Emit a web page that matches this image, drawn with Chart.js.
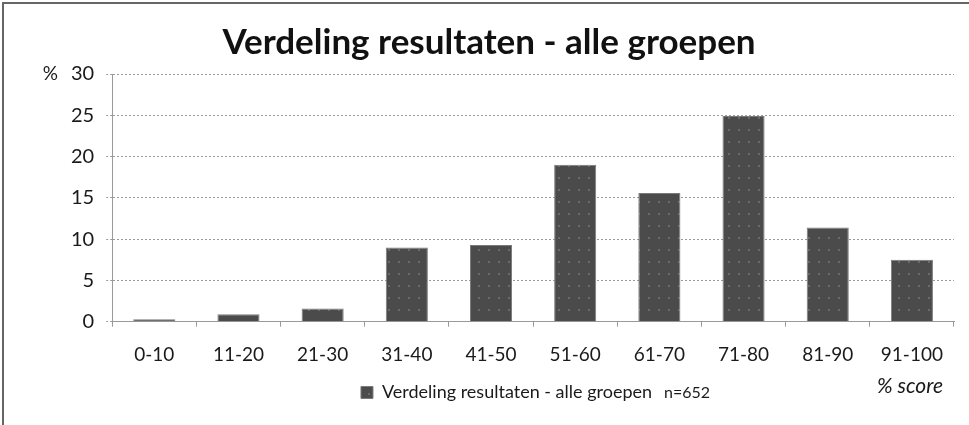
<!DOCTYPE html>
<html>
<head>
<meta charset="utf-8">
<script src="https://cdn.jsdelivr.net/npm/chart.js@4/dist/chart.umd.min.js"></script>
<style>
  html, body { margin: 0; padding: 0; background: #fff; }
  #wrap { position: relative; width: 969px; height: 425px; box-sizing: border-box;
          border-top: 2px solid #666; border-left: 2px solid #666; margin: 2px 0 0 2px; }
  canvas { display: block; }
</style>
</head>
<body>
<div id="wrap"><canvas id="c" width="967" height="421"></canvas></div>
<script>
const categories = ['0-10','11-20','21-30','31-40','41-50','51-60','61-70','71-80','81-90','91-100'];
const percentages = [0.3, 0.9, 1.6, 9.0, 9.3, 19.0, 15.6, 24.9, 11.4, 7.5];
const yTicks = [0, 5, 10, 15, 20, 25, 30];
const seriesName = 'Verdeling resultaten - alle groepen';
const chartTitle = 'Verdeling resultaten - alle groepen';
const sampleNote = 'n=652';
const xAxisNote = '% score';
const yAxisNote = '%';

const FONT = 'Lato, "Open Sans", sans-serif';

function makePattern() {
  const p = document.createElement('canvas');
  p.width = 10; p.height = 12;
  const g = p.getContext('2d');
  g.fillStyle = '#4b4b4b';
  g.fillRect(0, 0, 10, 12);
  g.fillStyle = '#6a6a6a';
  g.fillRect(4, 5, 2, 2);
  return g.createPattern(p, 'repeat');
}

const notes = {
  id: 'notes',
  afterDraw(chart) {
    const ctx = chart.ctx;
    const area = chart.chartArea;
    ctx.save();
    // title
    ctx.fillStyle = '#111';
    ctx.font = 'bold 35px ' + FONT;
    ctx.textAlign = 'center';
    ctx.textBaseline = 'middle';
    ctx.fillText(chartTitle, 485, 39);
    // % above y axis
    ctx.fillStyle = '#1a1a1a';
    ctx.font = '19px ' + FONT;
    ctx.textAlign = 'right';
    const y30 = chart.scales.y.getPixelForValue(30);
    ctx.fillText(yAxisNote, 54, y30);
    const hb = chart.legend.legendHitBoxes && chart.legend.legendHitBoxes[0];
    const cy = hb ? hb.top + hb.height / 2 : area.bottom + 65;
    ctx.font = '16px ' + FONT;
    ctx.textAlign = 'left';
    if (hb) ctx.fillText(sampleNote, hb.left + hb.width + 12, cy);
    ctx.font = 'italic 21px ' + FONT;
    ctx.textAlign = 'right';
    ctx.fillText(xAxisNote, area.right - 11, cy - 6);
    ctx.restore();
  }
};

new Chart(document.getElementById('c'), {
  type: 'bar',
  data: {
    labels: categories,
    datasets: [{
      label: seriesName,
      data: percentages,
      backgroundColor: makePattern(),
      borderColor: '#7a7a7a',
      borderWidth: 1,
      categoryPercentage: 1.0,
      barPercentage: 0.5
    }]
  },
  options: {
    responsive: false,
    animation: false,
    layout: { padding: { left: 55, right: 17, top: 70, bottom: 13.5 } },
    plugins: {
      title: { display: false },
      legend: {
        display: true,
        position: 'bottom',
        align: 'center',
        labels: {
          color: '#1a1a1a',
          font: { family: FONT, size: 18 },
          boxWidth: 12,
          boxHeight: 12,
          padding: 0
        }
      },
      tooltip: { enabled: false }
    },
    scales: {
      x: {
        offset: true,
        grid: { display: true, drawOnChartArea: false, offset: true, tickLength: 5, color: '#999' },
        border: { display: true, color: '#999', dash: [2, 2] },
        ticks: { color: '#1a1a1a', font: { family: FONT, size: 19 }, padding: 17, maxRotation: 0 }
      },
      y: {
        min: 0,
        max: 30,
        afterBuildTicks(scale) { scale.ticks = yTicks.map(v => ({ value: v })); },
        grid: { color: '#9a9a9a', tickLength: 6, tickBorderDash: [2, 2] },
        border: { display: true, color: '#999', dash: [2, 2] },
        ticks: { color: '#1a1a1a', font: { family: FONT, size: 20 }, padding: 12 }
      }
    }
  },
  plugins: [notes]
});
</script>
</body>
</html>
